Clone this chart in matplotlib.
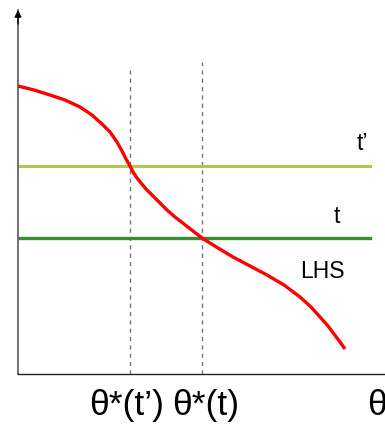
import matplotlib.pyplot as plt

# LHS curve (decreasing), sampled along its length
lhs_x = [0, 16, 32, 47, 62, 74, 84, 92, 99, 104, 108, 112, 115, 119, 123, 128, 134, 141,
         149, 157, 166, 175, 184, 200, 215, 232, 249, 266, 282, 293, 302, 310, 316, 322, 327]
lhs_y = [288, 284, 279, 274, 267, 259, 250, 242, 232, 223, 215, 208, 202, 196, 191, 185, 179, 172,
         164, 157, 150, 143, 136, 126, 117, 108, 99, 89, 77, 67, 57, 48, 40, 32, 25]

# horizontal levels t' and t
t_prime = 208
t_level = 136
line_end = 352

# theta*(t') and theta*(t)
theta_tp = 112
theta_t = 184
dash_top_tp = 304
dash_top_t = 312

fig = plt.figure(figsize=(3.85, 4.24), dpi=100)
ax = fig.add_axes([18 / 385, 50 / 424, 367 / 385, 364 / 424])
ax.set_xlim(0, 367)
ax.set_ylim(0, 364)

for side in ["top", "right"]:
    ax.spines[side].set_visible(False)
ax.spines["left"].set_color("#666666")
ax.spines["left"].set_linewidth(1.3)
ax.spines["bottom"].set_color("#222222")
ax.spines["bottom"].set_linewidth(1.0)
ax.set_xticks([])
ax.set_yticks([])

# arrow on top of the vertical axis
ax.annotate("", xy=(0, 364), xytext=(0, 350), xycoords="data",
            arrowprops=dict(arrowstyle="-|>", color="black", lw=1.0,
                            mutation_scale=10, shrinkA=0, shrinkB=0),
            annotation_clip=False)

# dashed guides
ax.plot([theta_tp, theta_tp], [0, dash_top_tp], color="#777777", lw=1.0,
        ls=(0, (3, 3)), zorder=1)
ax.plot([theta_t, theta_t], [0, dash_top_t], color="#777777", lw=1.0,
        ls=(0, (3, 3)), zorder=1)

ax.plot([0, line_end], [t_prime, t_prime], color="#b3c74c", lw=2.2, zorder=2)
ax.plot([0, line_end], [t_level, t_level], color="#3b8a35", lw=2.4, zorder=2)
ax.plot(lhs_x, lhs_y, color="#ff0000", lw=2.4, solid_capstyle="butt",
        solid_joinstyle="round", zorder=3)

font = "Liberation Sans"
ax.text(344, 224, "t\u2019", fontsize=16.5, family=font, ha="center", va="baseline")
ax.text(319, 151, "t", fontsize=16.5, family=font, ha="center", va="baseline")
ax.text(304, 96, "LHS", fontsize=16.5, family=font, ha="center", va="baseline")

ax.text(theta_tp - 3, -41, "\u03b8*(t\u2019)", fontsize=25.5, family=font,
        ha="center", va="baseline", clip_on=False)
ax.text(theta_t + 4, -41, "\u03b8*(t)", fontsize=25.5, family=font,
        ha="center", va="baseline", clip_on=False)
ax.text(349, -41, "\u03b8", fontsize=25.5, family=font,
        ha="left", va="baseline", clip_on=False)

fig.savefig("out.png", dpi=100)
